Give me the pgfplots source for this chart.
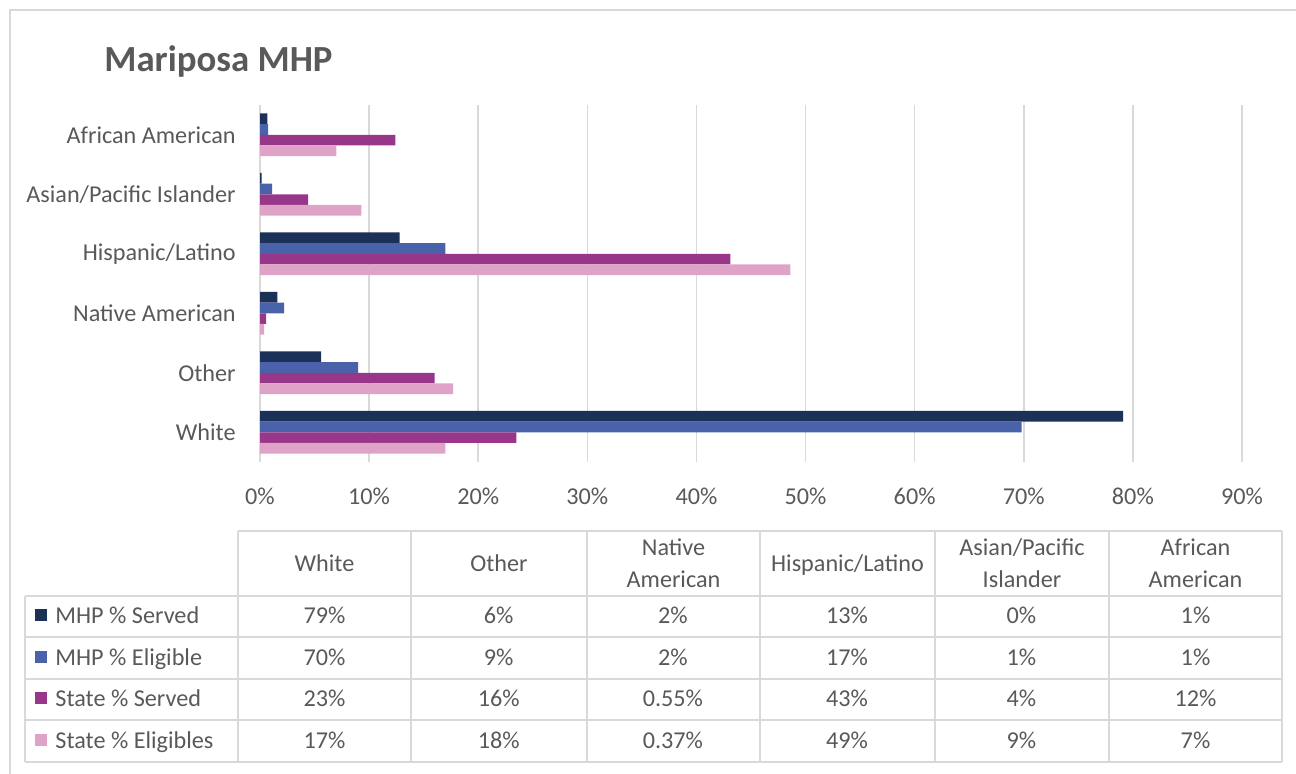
\documentclass[border=0pt]{standalone}
\usepackage{pgfplots}
\usepackage{pgfplotstable}
\pgfplotsset{compat=1.18}
\usepackage{fontspec}
\setmainfont{Carlito}

\definecolor{txt}{HTML}{595959}
\definecolor{gridc}{HTML}{D9D9D9}
\definecolor{served}{HTML}{1B3158}
\definecolor{elig}{HTML}{4A62AA}
\definecolor{stserved}{HTML}{98368A}
\definecolor{stelig}{HTML}{E0A3C8}

\newcommand\lbl{\fontsize{12.1pt}{14.5pt}\selectfont}

% share of each group, in percent (0 = White ... 5 = African American)
\pgfplotstableread{
y served elig stserved stelig
0 79.1 69.8 23.5 17.0
1 5.6 9.0 16.0 17.7
2 1.6 2.2 0.55 0.37
3 12.8 17.0 43.1 48.6
4 0.15 1.1 4.4 9.3
5 0.67 0.74 12.4 7.0
}\ethnic

\begin{document}
\begin{tikzpicture}
\useasboundingbox (0,0) rectangle (648pt,-386.5pt);
\begin{scope}[x=0.5pt,y=-0.5pt]
  % chart frame
  \draw[gridc, line width=0.8pt] (10,10) rectangle (1320,800);
  % title
  \node[anchor=base west, inner sep=0pt, text=txt,
        font=\fontsize{18.4pt}{22pt}\selectfont\bfseries] at (104,71) {Mariposa MHP};
  % data table grid
  \begin{scope}[gridc, line width=0.8pt]
    \draw (238,531) -- (1282,531);
    \foreach \yy in {596,637,679,720,762} \draw (25,\yy) -- (1282,\yy);
    \draw (25,596) -- (25,762);
    \foreach \xx in {238,411,587,760,935,1109,1282} \draw (\xx,531) -- (\xx,762);
  \end{scope}
  % column headers
  \begin{scope}[every node/.style={anchor=base, inner sep=0pt, text=txt, font=\lbl}]
    \node at (324.5,571) {White};
    \node at (499,571) {Other};
    \node at (673.5,555) {Native};
    \node at (673.5,587) {American};
    \node at (847.5,571) {Hispanic/Latino};
    \node at (1022,555) {Asian/Pacific};
    \node at (1022,587) {Islander};
    \node at (1195.5,555) {African};
    \node at (1195.5,587) {American};
    % table values
    \foreach \row/\yy in {{79\%,6\%,2\%,13\%,0\%,1\%}/623,
                          {70\%,9\%,2\%,17\%,1\%,1\%}/665,
                          {23\%,16\%,0.55\%,43\%,4\%,12\%}/706,
                          {17\%,18\%,0.37\%,49\%,9\%,7\%}/748} {
      \foreach \v [count=\i] in \row {
        \pgfmathsetmacro\xc{324.5+(\i-1)*174.2}
        \node at (\xc,\yy) {\v};
      }
    }
  \end{scope}
\end{scope}

\begin{axis}[
  xbar, bar width=5.33pt,
  scale only axis, width=491pt, height=178.5pt,
  at={(130pt,-231pt)}, anchor=south west,
  xmin=0, xmax=90, ymin=-0.5, ymax=5.5,
  xtick={0,10,...,90},
  xticklabel={\pgfmathprintnumber{\tick}\%},
  ytick={0,...,5},
  yticklabels={White, Other, Native American, Hispanic/Latino, Asian/Pacific Islander, African American},
  xmajorgrids, major grid style={gridc, line width=0.8pt},
  axis line style={draw=none},
  major tick length=0pt, tick style={draw=none},
  ticklabel style={font=\lbl, text=txt},
  xticklabel style={anchor=center, yshift=-17pt},
  yticklabel style={anchor=east, inner sep=0pt, xshift=-12pt},
  /pgf/number format/assume math mode=true,
  legend cell align=left,
  legend image code/.code={\fill[#1,draw=none] (0pt,-1.8pt) rectangle (6pt,4.2pt);},
  legend style={at={(-0.2291,-0.4006)}, anchor=north west, draw=none, fill=none,
    inner sep=0pt, row sep=8.83pt, column sep=4pt, font=\lbl, text=txt,
    nodes={inner sep=0pt, text height=9pt, text depth=3pt}},
]
\addplot[fill=served, draw=none, bar shift=8pt] table[x=served, y=y] {\ethnic};
\addplot[fill=elig, draw=none, bar shift=2.66pt] table[x=elig, y=y] {\ethnic};
\addplot[fill=stserved, draw=none, bar shift=-2.66pt] table[x=stserved, y=y] {\ethnic};
\addplot[fill=stelig, draw=none, bar shift=-8pt] table[x=stelig, y=y] {\ethnic};
\legend{MHP \% Served, MHP \% Eligible, State \% Served, State \% Eligibles}
\end{axis}
\end{tikzpicture}
\end{document}
